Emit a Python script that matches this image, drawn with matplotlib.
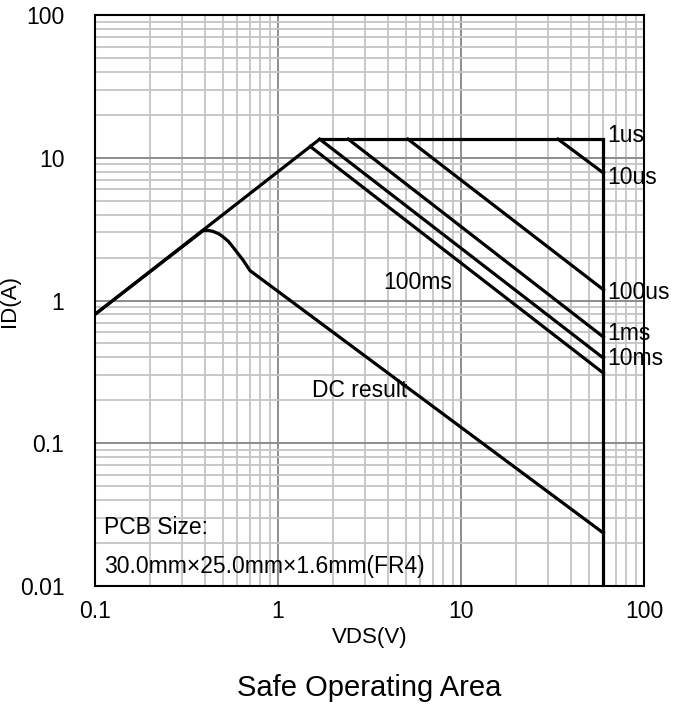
# -*- coding: utf-8 -*-
"""
Safe operating area (log-log) for the MOSFET, VDS vs ID with pulse-width limits.
"""

import numpy as np
import matplotlib
matplotlib.use("Agg")
import matplotlib.pyplot as plt
from matplotlib.ticker import LogLocator, FixedLocator, FixedFormatter, NullFormatter

plt.rcParams['font.family'] = ['Liberation Sans', 'DejaVu Sans']

# device limits
vdsMax = 60.0   # V
idMax = 13.5    # A

# Rds(on) limited line
rdsV = [0.1, 1.69]
rdsI = [0.8, 13.5]

# pulse limit lines: start point -> current at vdsMax
pulseNames = ["100ms", "10ms", "1ms", "100us", "10us"]
pulseStartV = [1.5, 1.69, 2.42, 5.13, 33.9]
pulseStartI = [12.0, 13.5, 13.5, 13.5, 13.5]
pulseEndI = [0.31, 0.395, 0.555, 1.19, 7.82]

# DC curve
dcV = [0.1, 0.389, 0.415, 0.441, 0.475, 0.501, 0.535, 0.567, 0.605, 0.644, 0.703, 60.0]
dcI = [0.8, 3.08, 3.1, 3.05, 2.93, 2.79, 2.6, 2.37, 2.13, 1.92, 1.62, 0.0235]

# axis ticks
xTicks = [0.1, 1, 10, 100]
xTickLabels = ["0.1", "1", "10", "100"]
yTicks = [0.01, 0.1, 1, 10, 100]
yTickLabels = ["0.01", "0.1", "1", "10", "100"]

# curve labels (text, x, y)
curveLabels = [("1us", 63, 14.4), ("10us", 63, 7.3), ("100us", 63, 1.13),
               ("1ms", 63, 0.59), ("10ms", 63, 0.395),
               ("100ms", 3.75, 1.33), ("DC result", 1.53, 0.236)]

fig = plt.figure(figsize=(6.83, 7.13), dpi=100)
ax = fig.add_axes([95/683, 1 - 586/713, 549/683, 571/713])
ax.set_xscale("log")
ax.set_yscale("log")
ax.set_xlim(0.1, 100)
ax.set_ylim(0.01, 100)

# grid
ax.xaxis.set_major_locator(FixedLocator(xTicks))
ax.yaxis.set_major_locator(FixedLocator(yTicks))
ax.xaxis.set_minor_locator(LogLocator(base=10, subs=np.arange(2, 10)))
ax.yaxis.set_minor_locator(LogLocator(base=10, subs=np.arange(2, 10)))
ax.xaxis.set_minor_formatter(NullFormatter())
ax.yaxis.set_minor_formatter(NullFormatter())
ax.xaxis.set_major_formatter(FixedFormatter(xTickLabels))
ax.yaxis.set_major_formatter(FixedFormatter(yTickLabels))
ax.grid(which="minor", color="#c4c4c4", lw=1.3)
ax.grid(which="major", color="#8c8c8c", lw=1.4)
ax.set_axisbelow(True)
ax.tick_params(which="both", length=0)
ax.tick_params(axis="x", pad=10, labelsize=16.5)
ax.tick_params(axis="y", pad=22, labelsize=16.5)
for s in ax.spines.values():
    s.set_linewidth(1.5)
    s.set_color("black")

lw = 2.3
# Rds(on) line
ax.plot(rdsV, rdsI, color="black", lw=lw, solid_capstyle="butt")
# 1us: flat current limit then voltage limit
ax.plot([rdsV[-1], vdsMax, vdsMax], [idMax, idMax, 0.01], color="black", lw=lw,
        solid_joinstyle="miter")
# pulse lines
for i in range(len(pulseNames)):
    ax.plot([pulseStartV[i], vdsMax], [pulseStartI[i], pulseEndI[i]], color="black", lw=lw)
# DC
ax.plot(dcV, dcI, color="black", lw=lw)

for txt, x, y in curveLabels:
    ax.text(x, y, txt, fontsize=16.5, ha="left", va="center")

ax.text(0.112, 0.0259, "PCB Size:", fontsize=16.5, ha="left", va="center")
ax.text(0.112, 0.0136, "30.0mm×25.0mm×1.6mm(FR4)", fontsize=16.5, ha="left", va="center")

ax.set_xlabel("VDS(V)", fontsize=16, labelpad=3)
ax.set_ylabel("ID(A)", fontsize=16)
ax.yaxis.set_label_coords((20 - 95) / 549, 0.5)
fig.text(369/683, 1 - 688/713, "Safe Operating Area", fontsize=21, ha="center", va="center")

plt.savefig("out.png", dpi=100)
